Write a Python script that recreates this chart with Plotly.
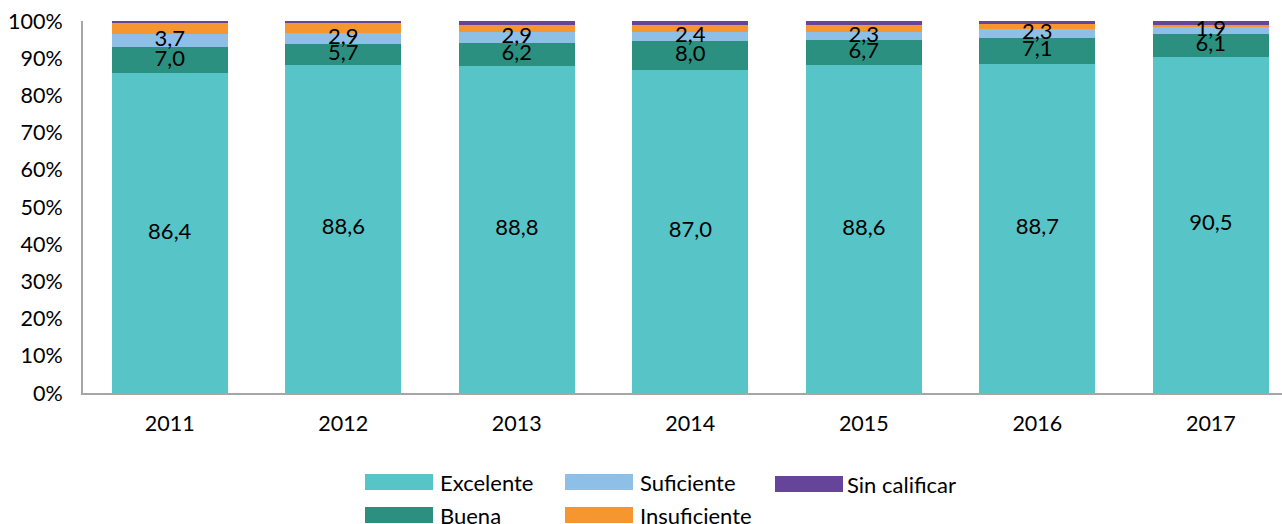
import plotly.graph_objects as go

years = ["2011", "2012", "2013", "2014", "2015", "2016", "2017"]
excelente = [86.4, 88.6, 88.8, 87.0, 88.6, 88.7, 90.5]
buena = [7.0, 5.7, 6.2, 8.0, 6.7, 7.1, 6.1]
suficiente = [3.7, 2.9, 2.9, 2.4, 2.3, 2.3, 1.9]
insuficiente = [3.0, 2.6, 2.0, 1.8, 1.8, 1.5, 0.6]
sin_calificar = [0.4, 0.6, 1.1, 1.1, 1.1, 0.7, 1.0]
y_ticks = list(range(0, 101, 10))
y_tick_labels = [f"{v}%" for v in y_ticks]

series = [
    ("Excelente", excelente, "#57C4C8", True),
    ("Buena", buena, "#2C9080", True),
    ("Suficiente", suficiente, "#8EBFE6", True),
    ("Insuficiente", insuficiente, "#F5962F", False),
    ("Sin calificar", sin_calificar, "#664499", False),
]

FONT = "Lato, 'Noto Sans', sans-serif"

def fmt(v):
    return f"{v:.1f}".replace(".", ",")

fig = go.Figure()
for name, vals, color, lab in series:
    fig.add_trace(go.Bar(
        name=name, x=years, y=vals,
        marker=dict(color=color, line=dict(width=0)),
        showlegend=False,
        hoverinfo="x+y+name",
    ))

# Data labels on top of all bars (centred in each normalised segment)
totals = [sum(s[1][i] for s in series) for i in range(len(years))]
base = [0.0] * len(years)
for name, vals, color, lab in series:
    mids = [(base[i] + vals[i] / 2) / totals[i] * 100 for i in range(len(years))]
    base = [base[i] + vals[i] for i in range(len(years))]
    if lab:
        fig.add_trace(go.Scatter(
            x=years, y=mids, mode="text",
            text=[fmt(v) for v in vals],
            textposition="middle center",
            textfont=dict(family=FONT, size=22, color="#000000"),
            cliponaxis=False, showlegend=False, hoverinfo="skip",
        ))

fig.update_layout(
    barmode="stack",
    barnorm="percent",
    bargap=0.33,
    width=1282, height=524,
    margin=dict(l=83, r=0, t=21, b=131),
    paper_bgcolor="white", plot_bgcolor="white",
    font=dict(family=FONT, size=21, color="#000000"),
)
fig.update_xaxes(
    type="category",
    range=[-0.5, 6.41],
    showline=True, linecolor="#A6A6A6", linewidth=2,
    ticks="", ticklabelstandoff=10,
    tickfont=dict(family=FONT, size=21.5),
    showgrid=False,
)
fig.update_yaxes(
    range=[0, 100],
    tickmode="array",
    tickvals=y_ticks,
    ticktext=y_tick_labels,
    showline=True, linecolor="#A6A6A6", linewidth=2,
    ticks="", ticklabelstandoff=14,
    tickfont=dict(family=FONT, size=21.5),
    showgrid=False, zeroline=False,
)

# Legend drawn as swatches + labels (two rows like the original)
legend_items = [
    ("Excelente", "#57C4C8", 365, 482),
    ("Suficiente", "#8EBFE6", 565, 482),
    ("Sin calificar", "#664499", 775, 484),
    ("Buena", "#2C9080", 365, 515),
    ("Insuficiente", "#F5962F", 565, 515),
]
W, H = 1282, 524
for name, color, x0, yc in legend_items:
    fig.add_shape(type="rect", xref="paper", yref="paper",
                  x0=(x0 - 83) / (W - 83), x1=(x0 + 68 - 83) / (W - 83),
                  y0=(393 - (yc + 8)) / 372, y1=(393 - (yc - 8)) / 372,
                  fillcolor=color, line=dict(width=0), layer="above")
    fig.add_annotation(xref="paper", yref="paper",
                       x=(x0 + (70 if name == "Sin calificar" else 73) - 83) / (W - 83),
                       y=(393 - yc) / 372,
                       text=name, showarrow=False, xanchor="left", yanchor="middle",
                       font=dict(family=FONT, size=22, color="#000000"))

fig.write_html("out.html", config={"displayModeBar": False},
               post_script="document.body.style.margin='0';")
